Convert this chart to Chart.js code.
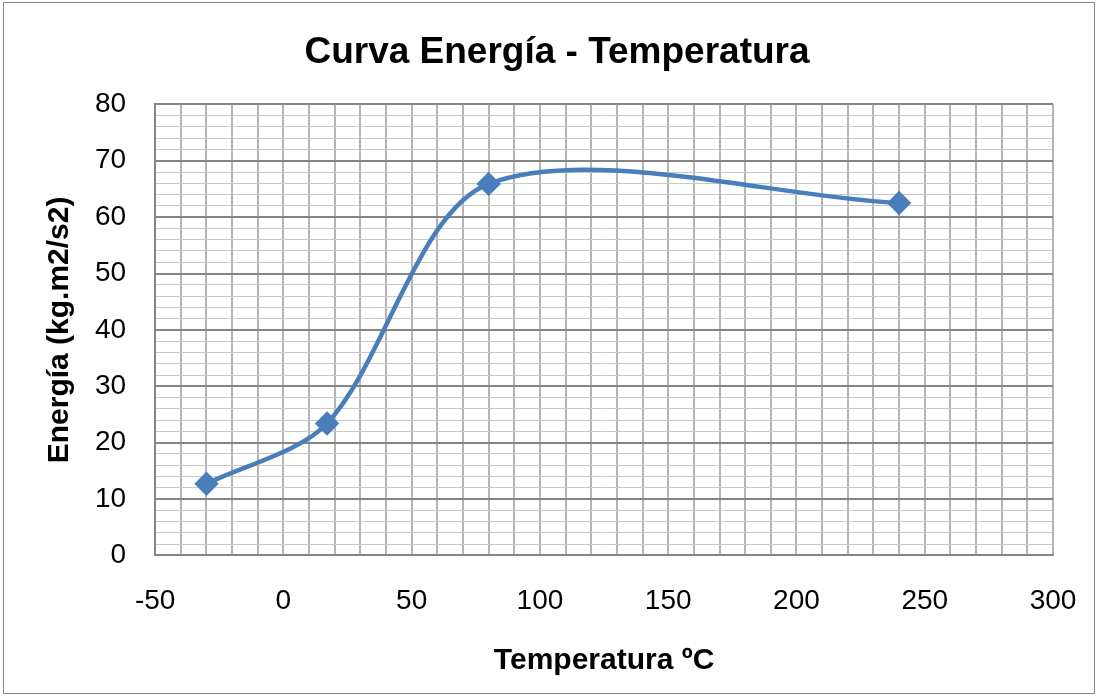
<!DOCTYPE html>
<html>
<head>
<meta charset="utf-8">
<script src="https://cdn.jsdelivr.net/npm/chart.js@4"></script>
<style>
  body { margin: 0; background: #fff; }
  #wrap { width: 1098px; height: 696px; }
</style>
</head>
<body>
<div id="wrap"><canvas id="energyChart"></canvas></div>
<script>
// datos
const temperatures = [-30, 17, 80, 240];
const energies = [12.7, 23.4, 65.9, 62.5];
const xTickLabels = [-50, 0, 50, 100, 150, 200, 250, 300];
const yTickLabels = [0, 10, 20, 30, 40, 50, 60, 70, 80];

const points = temperatures.map((t, i) => ({ x: t, y: energies[i] }));

// marco gris alrededor de todo
const frame = {
  id: 'frame',
  beforeDraw(chart) {
    const ctx = chart.ctx;
    ctx.save();
    ctx.fillStyle = '#fff';
    ctx.fillRect(0, 0, chart.width, chart.height);
    ctx.strokeStyle = '#868686';
    ctx.lineWidth = 1;
    ctx.strokeRect(3.5, 2.5, chart.width - 7, chart.height - 5);
    ctx.restore();
  }
};

const ctx = document.getElementById('energyChart').getContext('2d');
const energyChart = new Chart(ctx, {
  type: 'scatter',
  data: {
    datasets: [{
      data: points,
      showLine: true,
      borderColor: '#4a7ebb',
      backgroundColor: '#4a7ebb',
      borderWidth: 4.5,
      tension: 0.3,
      pointStyle: 'rectRot',
      pointRadius: 9,
      pointHoverRadius: 9
    }]
  },
  options: {
    responsive: true,
    maintainAspectRatio: false,
    animation: false,
    layout: { padding: { left: 61, right: 45, top: 20, bottom: 17 } },
    plugins: {
      legend: { display: false },
      tooltip: { enabled: false },
      title: {
        display: true,
        text: 'Curva Energía - Temperatura',
        color: '#000',
        font: { family: 'Liberation Sans, Arial', size: 37, weight: 'bold' },
        padding: { top: 11, bottom: 29 }
      }
    },
    scales: {
      x: {
        type: 'linear',
        min: -50,
        max: 300,
        border: { color: '#868686', width: 2 },
        grid: {
          color: '#b4b4b4',
          lineWidth: 2,
          drawTicks: true,
          tickLength: 29,
          tickColor: 'transparent'
        },
        ticks: {
          stepSize: 10,
          autoSkip: false,
          maxRotation: 0,
          padding: 0,
          color: '#000',
          font: { family: 'Liberation Sans, Arial', size: 28 },
          callback: v => xTickLabels.includes(v) ? v : ''
        },
        title: {
          display: true,
          text: 'Temperatura ºC',
          color: '#000',
          font: { family: 'Liberation Sans, Arial', size: 30, weight: 'bold' },
          padding: { top: 25, bottom: 0 }
        }
      },
      y: {
        min: 0,
        max: 80,
        border: { color: '#868686', width: 2 },
        grid: {
          color: c => c.tick && c.tick.value % 10 === 0 ? '#868686' : '#c8c8c8',
          lineWidth: c => c.tick && c.tick.value % 10 === 0 ? 2 : 1,
          drawTicks: false
        },
        ticks: {
          stepSize: 2,
          autoSkip: false,
          padding: 29,
          color: '#000',
          font: { family: 'Liberation Sans, Arial', size: 28 },
          callback: v => yTickLabels.includes(v) ? v : ''
        },
        title: {
          display: true,
          text: 'Energía (kg.m2/s2)',
          color: '#000',
          font: { family: 'Liberation Sans, Arial', size: 30, weight: 'bold' },
          padding: { top: -19, bottom: -12 }
        }
      }
    }
  },
  plugins: [frame]
});
</script>
</body>
</html>
